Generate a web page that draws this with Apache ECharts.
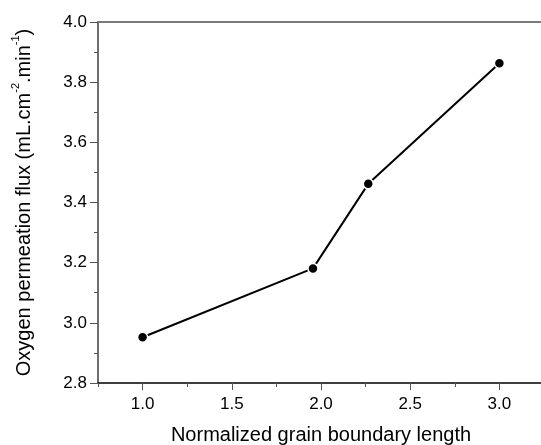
<!DOCTYPE html>
<html>
<head>
<meta charset="utf-8">
<script src="https://cdn.jsdelivr.net/npm/echarts@6/dist/echarts.min.js"></script>
<style>
html, body { margin: 0; padding: 0; background: #fff; overflow: hidden; }
#chart { width: 541px; height: 445px; }
</style>
</head>
<body>
<div id="chart"></div>
<script>
// grain boundary length vs oxygen flux
var gbLength = [1.0, 1.955, 2.265, 3.0];
var fluxValues = [2.952, 3.181, 3.462, 3.863];
var xTicks = [1.0, 1.5, 2.0, 2.5, 3.0];
var xMinorTicks = [0.75, 1.25, 1.75, 2.25, 2.75, 3.25];
var yTicks = [2.8, 3.0, 3.2, 3.4, 3.6, 3.8, 4.0];
var yMinorTicks = [2.9, 3.1, 3.3, 3.5, 3.7, 3.9];

var font = 'Liberation Sans';

function showChart() {
    var myChart = echarts.init(document.getElementById('chart'));
    var points = gbLength.map(function (x, i) { return [x, fluxValues[i]]; });
    var gridBox = { left: 98, top: 22, width: 446, height: 361, show: false, outerBoundsMode: 'none', containLabel: false };
    var option = {
        animation: false,
        textStyle: { fontFamily: font },
        grid: [
            Object.assign({}, gridBox),
            Object.assign({}, gridBox),
            Object.assign({}, gridBox)
        ],
        xAxis: [{
            gridIndex: 0,
            type: 'value',
            min: 0.75,
            max: 3.25,
            name: 'Normalized grain boundary length',
            nameLocation: 'middle',
            nameGap: 42,
            nameTextStyle: { fontSize: 20, color: '#000', fontFamily: font },
            axisLine: { onZero: false, lineStyle: { color: '#000', width: 1.5 } },
            axisTick: { show: true, length: 7, customValues: xTicks, lineStyle: { color: '#555', width: 1 } },
            axisLabel: {
                fontSize: 17, color: '#000', margin: 13,
                customValues: xTicks,
                formatter: function (v) { return v.toFixed(1); }
            },
            splitLine: { show: false }
        }, {
            // minor ticks
            gridIndex: 1,
            type: 'value',
            min: 0.75,
            max: 3.25,
            axisLine: { show: false, onZero: false },
            axisTick: { show: true, length: 4, customValues: xMinorTicks, lineStyle: { color: '#555', width: 1 } },
            axisLabel: { show: false },
            splitLine: { show: false }
        }, {
            // top frame line
            gridIndex: 2,
            type: 'value',
            position: 'top',
            min: 0.75,
            max: 3.25,
            axisLine: { show: true, onZero: false, lineStyle: { color: '#7a7a7a', width: 2 } },
            axisTick: { show: false },
            axisLabel: { show: false },
            splitLine: { show: false }
        }],
        yAxis: [{
            gridIndex: 0,
            type: 'value',
            min: 2.8,
            max: 4.0,
            name: '{n|Oxygen permeation flux (mL.cm}{s|-2}{n|.min}{s|-1}{n|)}',
            nameLocation: 'middle',
            nameRotate: 90,
            nameGap: 64,
            nameTextStyle: {
                rich: {
                    n: { fontSize: 20, color: '#000', fontFamily: font, lineHeight: 24, verticalAlign: 'bottom' },
                    s: { fontSize: 11, color: '#000', fontFamily: font, lineHeight: 24, verticalAlign: 'top' }
                }
            },
            axisLine: { show: true, onZero: false, lineStyle: { color: '#6e6e6e', width: 2 } },
            axisTick: { show: true, length: 8, customValues: yTicks, lineStyle: { color: '#555', width: 1 } },
            axisLabel: {
                fontSize: 17, color: '#000', margin: 11,
                customValues: yTicks,
                formatter: function (v) { return v.toFixed(1); }
            },
            splitLine: { show: false }
        }, {
            // minor ticks
            gridIndex: 1,
            type: 'value',
            min: 2.8,
            max: 4.0,
            axisLine: { show: false, onZero: false },
            axisTick: { show: true, length: 4, customValues: yMinorTicks, lineStyle: { color: '#555', width: 1 } },
            axisLabel: { show: false },
            splitLine: { show: false }
        }, {
            gridIndex: 2,
            type: 'value',
            min: 2.8,
            max: 4.0,
            show: false
        }],
        series: [{
            type: 'line',
            xAxisIndex: 0,
            yAxisIndex: 0,
            data: points,
            symbol: 'circle',
            symbolSize: 10,
            lineStyle: { color: '#000', width: 2 },
            itemStyle: { color: '#000', borderColor: '#fff', borderWidth: 1.5 }
        }]
    };
    myChart.setOption(option);
}

showChart();
</script>
</body>
</html>
